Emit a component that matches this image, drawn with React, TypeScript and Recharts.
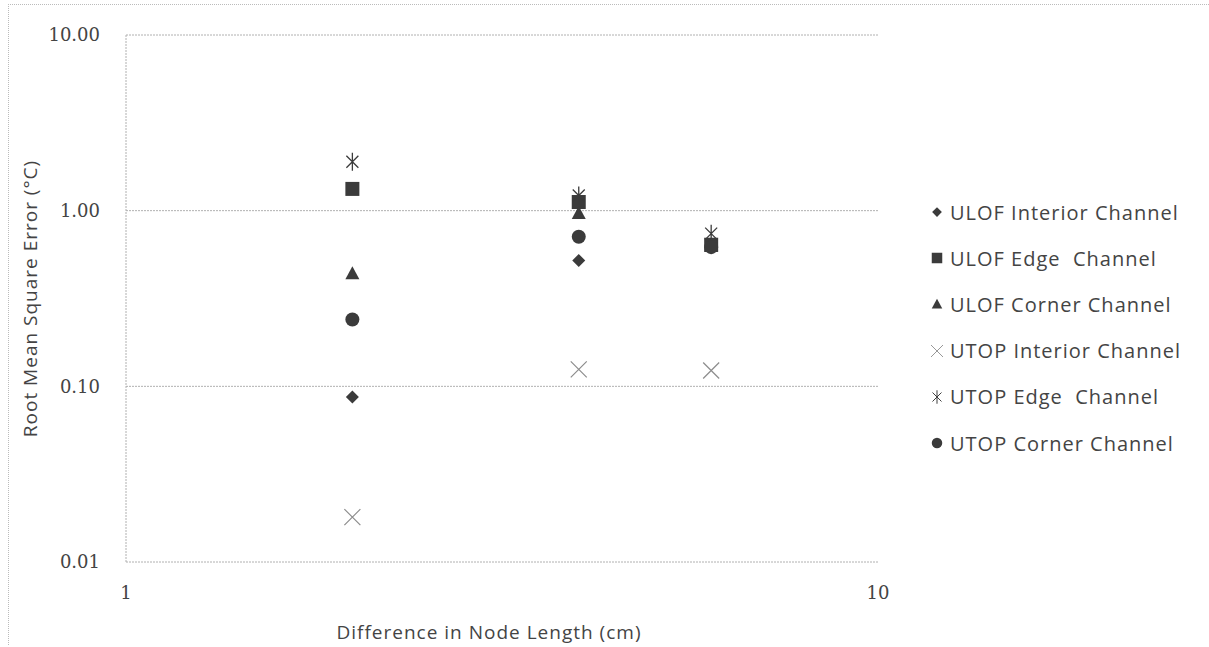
import { ScatterChart, Scatter, XAxis, YAxis, CartesianGrid } from 'recharts'

// node length difference (cm)
const nodeDiffs = [2, 4, 6]

// RMS error (°C) per series
const ulofInterior = [0.087, 0.52, 0.62]
const ulofEdge = [1.33, 1.12, 0.64]
const ulofCorner = [0.44, 0.97, 0.63]
const utopInterior = [0.018, 0.125, 0.123]
const utopEdge = [1.9, 1.22, 0.74]
const utopCorner = [0.24, 0.71, 0.62]

const xTicks = [1, 10]
const yTicks = [0.01, 0.1, 1, 10]

const DARK = '#3b3b3b'
const LIGHT = '#8c8c8c'
const TEXT = '#444'
const GRID = '#b0b0b0'

type P = { cx?: number; cy?: number }

const Diamond = ({ cx = 0, cy = 0 }: P) => (
  <path d={`M${cx},${cy - 6.5}L${cx + 6.5},${cy}L${cx},${cy + 6.5}L${cx - 6.5},${cy}Z`} fill={DARK} />
)
const Square = ({ cx = 0, cy = 0 }: P) => <rect x={cx - 7} y={cy - 7} width={14} height={14} fill={DARK} />
const Triangle = ({ cx = 0, cy = 0 }: P) => (
  <path d={`M${cx},${cy - 7}L${cx + 7},${cy + 6}L${cx - 7},${cy + 6}Z`} fill={DARK} />
)
const XMark = ({ cx = 0, cy = 0 }: P) => (
  <path d={`M${cx - 8},${cy - 8}L${cx + 8},${cy + 8}M${cx + 8},${cy - 8}L${cx - 8},${cy + 8}`} stroke={LIGHT} strokeWidth={1.2} fill="none" />
)
const Asterisk = ({ cx = 0, cy = 0 }: P) => (
  <path
    d={`M${cx},${cy - 9}L${cx},${cy + 9}M${cx - 6},${cy - 6}L${cx + 6},${cy + 6}M${cx + 6},${cy - 6}L${cx - 6},${cy + 6}`}
    stroke={DARK}
    strokeWidth={1.3}
    fill="none"
  />
)
const Dot = ({ cx = 0, cy = 0 }: P) => <circle cx={cx} cy={cy} r={7} fill={DARK} />

const series = [
  { name: 'ULOF Interior Channel', values: ulofInterior, shape: Diamond },
  { name: 'ULOF Edge  Channel', values: ulofEdge, shape: Square },
  { name: 'ULOF Corner Channel', values: ulofCorner, shape: Triangle },
  { name: 'UTOP Interior Channel', values: utopInterior, shape: XMark },
  { name: 'UTOP Edge  Channel', values: utopEdge, shape: Asterisk },
  { name: 'UTOP Corner Channel', values: utopCorner, shape: Dot },
]

const legendIcon = (i: number) => {
  const S = series[i].shape
  return (
    <svg width={18} height={18} style={{ marginRight: 4 }}>
      <g transform="translate(9,9) scale(0.75) translate(-9,-9)">
        <S cx={9} cy={9} />
      </g>
    </svg>
  )
}

const tickStyle = { fill: TEXT, fontSize: 18, style: { fontFamily: 'DejaVu Serif' } }

export default function App() {
  return (
    <div style={{ position: 'absolute', left: 0, top: 0, width: 1209, height: 647, background: '#fff' }}>
      {/* faint frame of the original chart area */}
      <div style={{ position: 'absolute', left: 8, top: 4, right: 0, height: 640, borderTop: '1px dotted #bbb', borderLeft: '1px dotted #bbb' }} />
      <ScatterChart width={1209} height={647} margin={{ top: 35, right: 331, bottom: 0, left: 0 }}>
        <CartesianGrid vertical={false} stroke={GRID} strokeDasharray="2 1" />
        <XAxis
          type="number"
          dataKey="x"
          scale="log"
          domain={[1, 10]}
          ticks={xTicks}
          height={85}
          axisLine={false}
          tickLine={false}
          tickSize={0}
          tickMargin={24}
          tick={tickStyle}
          label={{
            value: 'Difference in Node Length (cm)',
            position: 'insideBottom',
            offset: 8,
            dx: -13,
            fill: TEXT,
            fontSize: 19,
            style: { fontFamily: 'Open Sans', letterSpacing: 1 },
          }}
        />
        <YAxis
          type="number"
          dataKey="y"
          scale="log"
          domain={[0.01, 10]}
          ticks={yTicks}
          width={126}
          stroke={GRID}
          strokeDasharray="2 1"
          tickLine={false}
          tickSize={0}
          tickMargin={26}
          tickFormatter={(v: number) => v.toFixed(2)}
          tick={tickStyle}
          label={{
            value: 'Root Mean Square Error (°C)',
            angle: -90,
            position: 'insideLeft',
            offset: 30,
            fill: TEXT,
            fontSize: 19,
            style: { textAnchor: 'middle', fontFamily: 'Open Sans', letterSpacing: 1 },
          }}
        />
        {series.map((s) => (
          <Scatter
            key={s.name}
            name={s.name}
            data={nodeDiffs.map((x, i) => ({ x, y: s.values[i] }))}
            shape={s.shape as any}
            isAnimationActive={false}
          />
        ))}
      </ScatterChart>
      <div style={{ position: 'absolute', left: 928, top: 189, fontFamily: 'Open Sans', fontSize: 20, letterSpacing: 1, color: TEXT }}>
        {series.map((s, i) => (
          <div key={s.name} style={{ display: 'flex', alignItems: 'center', height: 46.2, whiteSpace: 'pre' }}>
            {legendIcon(i)}
            <span>{s.name}</span>
          </div>
        ))}
      </div>
    </div>
  )
}
